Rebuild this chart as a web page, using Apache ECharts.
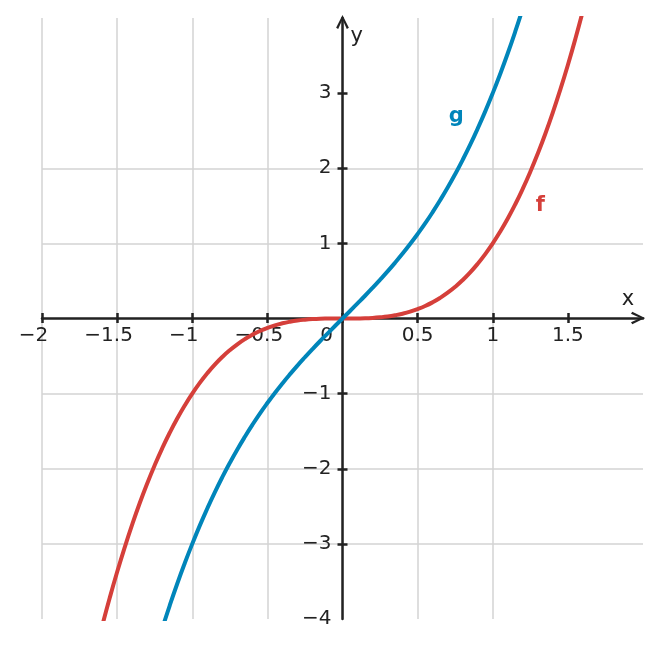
<!DOCTYPE html>
<html lang="en">
<head>
<meta charset="UTF-8">
<title>f and g</title>
<script src="https://cdn.jsdelivr.net/npm/echarts@6/dist/echarts.min.js"></script>
</head>
<body style="margin:0">
<div id="main" style="width:661px;height:648px;"></div>
<script type="text/javascript">
// values
const fXs = [-1.6, -1.55, -1.5, -1.45, -1.4, -1.35, -1.3, -1.25, -1.2, -1.15, -1.1, -1.05, -1.0, -0.95, -0.9, -0.85,
  -0.8, -0.75, -0.7, -0.65, -0.6, -0.55, -0.5, -0.45, -0.4, -0.35, -0.3, -0.25, -0.2, -0.15, -0.1, -0.05,
  0, 0.05, 0.1, 0.15, 0.2, 0.25, 0.3, 0.35, 0.4, 0.45, 0.5, 0.55, 0.6, 0.65, 0.7, 0.75,
  0.8, 0.85, 0.9, 0.95, 1.0, 1.05, 1.1, 1.15, 1.2, 1.25, 1.3, 1.35, 1.4, 1.45, 1.5, 1.55, 1.6];
const fVals = [-4.096, -3.724, -3.375, -3.049, -2.744, -2.46, -2.197, -1.953, -1.728, -1.521, -1.331, -1.158, -1.0, -0.857, -0.729, -0.614,
  -0.512, -0.422, -0.343, -0.275, -0.216, -0.166, -0.125, -0.091, -0.064, -0.043, -0.027, -0.016, -0.008, -0.003, -0.001, 0,
  0, 0, 0.001, 0.003, 0.008, 0.016, 0.027, 0.043, 0.064, 0.091, 0.125, 0.166, 0.216, 0.275, 0.343, 0.422,
  0.512, 0.614, 0.729, 0.857, 1.0, 1.158, 1.331, 1.521, 1.728, 1.953, 2.197, 2.46, 2.744, 3.049, 3.375, 3.724, 4.096];
const gXs = [-1.2, -1.15, -1.1, -1.05, -1.0, -0.95, -0.9, -0.85, -0.8, -0.75, -0.7, -0.65, -0.6, -0.55, -0.5, -0.45,
  -0.4, -0.35, -0.3, -0.25, -0.2, -0.15, -0.1, -0.05,
  0, 0.05, 0.1, 0.15, 0.2, 0.25, 0.3, 0.35, 0.4, 0.45, 0.5, 0.55, 0.6, 0.65, 0.7, 0.75,
  0.8, 0.85, 0.9, 0.95, 1.0, 1.05, 1.1, 1.15, 1.2];
const gVals = [-4.128, -3.821, -3.531, -3.258, -3.0, -2.757, -2.529, -2.314, -2.112, -1.922, -1.743, -1.575, -1.416, -1.266, -1.125, -0.991,
  -0.864, -0.743, -0.627, -0.516, -0.408, -0.303, -0.201, -0.1,
  0, 0.1, 0.201, 0.303, 0.408, 0.516, 0.627, 0.743, 0.864, 0.991, 1.125, 1.266, 1.416, 1.575, 1.743, 1.922,
  2.112, 2.314, 2.529, 2.757, 3.0, 3.258, 3.531, 3.821, 4.128];
const xTicks = [-2, -1.5, -1, -0.5, 0, 0.5, 1, 1.5];
const yTicks = [-3, -2, -1, 1, 2, 3];
const yLabels = [-4, -3, -2, -1, 1, 2, 3];

const red = '#d53f3a';
const blue = '#0085ba';
const ink = '#222';
const font = 'DejaVu Sans';
const chevron = 'path://M0,10 L5,0 L10,10 L8.4,11 L5,3.6 L1.6,11 Z';

const fmt = v => String(v).replace('-', '\u2212');

let myChart = echarts.init(document.getElementById('main'));

// axes sit on the zero lines of the other axis: grid is 601 x 601, zero in the middle
const xOff = -301;
const yOff = -300.5;

const tickStyle = { color: ink, width: 2.5 };
const gridStyle = { color: '#d3d3d3', width: 1.5 };
const lbl = { fontFamily: font, fontSize: 20, color: ink };

let options = {
  animation: false,
  grid: { left: 42, right: 18, top: 18, bottom: 29 },
  xAxis: [{
    type: 'value', min: -2, max: 2, interval: 0.5, position: 'bottom', offset: xOff,
    name: 'x', nameLocation: 'end', nameGap: -15,
    nameTextStyle: { color: ink, fontFamily: font, fontSize: 21, align: 'center', verticalAlign: 'bottom', padding: [0, 0, 8, 0] },
    axisLine: { onZero: false, symbol: ['none', chevron], symbolSize: [13, 14], symbolOffset: [0, -5], lineStyle: { color: ink, width: 2.5 } },
    axisTick: { show: true, length: 5, customValues: xTicks, lineStyle: tickStyle },
    axisLabel: {
      customValues: xTicks, margin: 8, color: ink, fontFamily: font, fontSize: 20,
      // digits centred on the tick, minus sign hangs to the left
      formatter: v => v === 0 ? '{z|0}' : (v < 0 ? '{n|' + fmt(v) + '}' : fmt(v)),
      rich: {
        z: Object.assign({ padding: [0, 32, 0, 0] }, lbl),
        n: Object.assign({ padding: [0, 17, 0, 0] }, lbl)
      }
    },
    splitLine: { show: true, showMaxLine: false, lineStyle: gridStyle }
  }, {
    type: 'value', min: -2, max: 2, interval: 0.5, position: 'bottom', offset: xOff,
    axisLine: { onZero: false, show: false },
    axisTick: { show: true, inside: true, length: 5, customValues: xTicks, lineStyle: tickStyle },
    axisLabel: { show: false },
    splitLine: { show: false }
  }],
  yAxis: [{
    type: 'value', min: -4, max: 4, interval: 1, position: 'left', offset: yOff,
    name: 'y', nameLocation: 'end', nameGap: -8,
    nameTextStyle: { color: ink, fontFamily: font, fontSize: 21, align: 'left', verticalAlign: 'top', padding: [0, 0, 0, 8] },
    axisLine: { onZero: false, symbol: ['none', chevron], symbolSize: [13, 14], symbolOffset: [0, -4], lineStyle: { color: ink, width: 2.5 } },
    axisTick: { show: true, length: 5, customValues: yTicks, lineStyle: tickStyle },
    axisLabel: { customValues: yLabels, margin: 11, color: ink, fontFamily: font, fontSize: 20, formatter: v => fmt(v) },
    splitLine: { show: true, showMaxLine: false, lineStyle: gridStyle }
  }, {
    type: 'value', min: -4, max: 4, interval: 1, position: 'left', offset: yOff,
    axisLine: { onZero: false, show: false },
    axisTick: { show: true, inside: true, length: 5, customValues: yTicks, lineStyle: tickStyle },
    axisLabel: { show: false },
    splitLine: { show: false }
  }],
  series: [{
    name: 'f', type: 'line', smooth: true, showSymbol: false, z: 3,
    data: fXs.map((x, i) => [x, fVals[i]]),
    lineStyle: { color: red, width: 4 },
    markPoint: {
      symbol: 'circle', symbolSize: 1, itemStyle: { color: 'rgba(0,0,0,0)' },
      label: { show: true, position: 'inside', formatter: 'f', color: red, fontFamily: font, fontWeight: 'bold', fontSize: 21 },
      data: [{ coord: [1.317, 1.51] }]
    }
  }, {
    name: 'g', type: 'line', smooth: true, showSymbol: false, z: 3,
    data: gXs.map((x, i) => [x, gVals[i]]),
    lineStyle: { color: blue, width: 4 },
    markPoint: {
      symbol: 'circle', symbolSize: 1, itemStyle: { color: 'rgba(0,0,0,0)' },
      label: { show: true, position: 'inside', formatter: 'g', color: blue, fontFamily: font, fontWeight: 'bold', fontSize: 21 },
      data: [{ coord: [0.758, 2.69] }]
    }
  }]
};

myChart.setOption(options);
</script>
</body>
</html>
